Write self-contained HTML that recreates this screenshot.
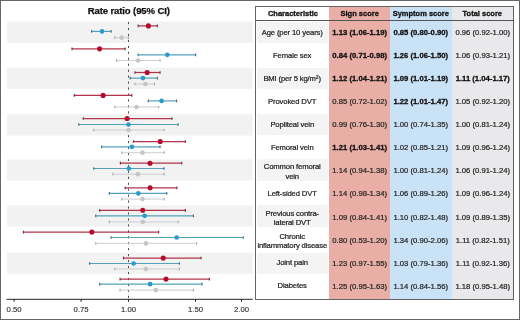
<!DOCTYPE html>
<html><head><meta charset="utf-8"><style>
html,body{margin:0;padding:0;background:#fff}
body{width:520px;height:320px;position:relative;overflow:hidden;font-family:"Liberation Sans",sans-serif}
#wrap{position:absolute;left:0;top:0;width:520px;height:320px;will-change:transform}
.c{position:absolute;display:flex;align-items:center;justify-content:center;text-align:center;white-space:nowrap;color:#2a2a2a}
.h{font-weight:bold;font-size:7.5px;color:#111;-webkit-text-stroke:0.3px #111}
.n{font-size:7.7px;letter-spacing:-0.15px;line-height:9.2px;color:#222;box-sizing:border-box;-webkit-text-stroke:0.22px #222}
.two{padding-top:1.8px}
.v{font-size:7.7px;color:#262626;-webkit-text-stroke:0.22px #262626}
.b{font-weight:bold;color:#111;-webkit-text-stroke:0.3px #111}
sup{font-size:68%;line-height:0;vertical-align:baseline;position:relative;top:-1.9px}
.frame{position:absolute;left:0;top:0;width:520px;height:320px;box-sizing:border-box;border:1px solid #666}
</style></head><body><div id="wrap">
<svg width="256" height="320" viewBox="0 0 256 320" style="position:absolute;left:0;top:0"><rect x="7" y="21.60" width="246" height="21.3" fill="#f2f2f2"/><rect x="7" y="67.60" width="246" height="21.3" fill="#f2f2f2"/><rect x="7" y="114.20" width="246" height="21.3" fill="#f2f2f2"/><rect x="7" y="159.30" width="246" height="21.3" fill="#f2f2f2"/><rect x="7" y="205.35" width="246" height="21.3" fill="#f2f2f2"/><rect x="7" y="252.60" width="246" height="21.3" fill="#f2f2f2"/><line x1="128.5" y1="22.0" x2="128.5" y2="299" stroke="#505050" stroke-width="1" stroke-dasharray="2.2 3.75"/><line x1="138.14" y1="25.90" x2="157.29" y2="25.90" stroke="#b0344a" stroke-width="1.25"/><line x1="138.14" y1="24.55" x2="138.14" y2="27.25" stroke="#6a2a3a" stroke-width="1.1"/><line x1="157.29" y1="24.55" x2="157.29" y2="27.25" stroke="#6a2a3a" stroke-width="1.1"/><circle cx="148.40" cy="25.90" r="2.55" fill="#b50a2c"/><line x1="91.68" y1="31.40" x2="111.12" y2="31.40" stroke="#52a2bc" stroke-width="1.2"/><line x1="91.68" y1="30.05" x2="91.68" y2="32.75" stroke="#3f6878" stroke-width="1.1"/><line x1="111.12" y1="30.05" x2="111.12" y2="32.75" stroke="#3f6878" stroke-width="1.1"/><circle cx="102.00" cy="31.40" r="2.35" fill="#2a9acb"/><line x1="114.74" y1="37.70" x2="128.50" y2="37.70" stroke="#cdcdd4" stroke-width="1.0"/><line x1="114.74" y1="36.35" x2="114.74" y2="39.05" stroke="#a8a8ae" stroke-width="1.1"/><line x1="128.50" y1="36.35" x2="128.50" y2="39.05" stroke="#a8a8ae" stroke-width="1.1"/><circle cx="121.70" cy="37.70" r="2.35" fill="#c6c6c6"/><line x1="71.99" y1="48.85" x2="125.17" y2="48.85" stroke="#b0344a" stroke-width="1.25"/><line x1="71.99" y1="47.50" x2="71.99" y2="50.20" stroke="#6a2a3a" stroke-width="1.1"/><line x1="125.17" y1="47.50" x2="125.17" y2="50.20" stroke="#6a2a3a" stroke-width="1.1"/><circle cx="99.60" cy="48.85" r="2.55" fill="#b50a2c"/><line x1="138.14" y1="54.80" x2="195.60" y2="54.80" stroke="#52a2bc" stroke-width="1.2"/><line x1="138.14" y1="53.45" x2="138.14" y2="56.15" stroke="#3f6878" stroke-width="1.1"/><line x1="195.60" y1="53.45" x2="195.60" y2="56.15" stroke="#3f6878" stroke-width="1.1"/><circle cx="167.25" cy="54.80" r="2.35" fill="#2a9acb"/><line x1="116.53" y1="60.50" x2="160.05" y2="60.50" stroke="#cdcdd4" stroke-width="1.0"/><line x1="116.53" y1="59.15" x2="116.53" y2="61.85" stroke="#a8a8ae" stroke-width="1.1"/><line x1="160.05" y1="59.15" x2="160.05" y2="61.85" stroke="#a8a8ae" stroke-width="1.1"/><circle cx="138.10" cy="60.50" r="2.35" fill="#c6c6c6"/><line x1="134.99" y1="72.50" x2="160.05" y2="72.50" stroke="#b0344a" stroke-width="1.25"/><line x1="134.99" y1="71.15" x2="134.99" y2="73.85" stroke="#6a2a3a" stroke-width="1.1"/><line x1="160.05" y1="71.15" x2="160.05" y2="73.85" stroke="#6a2a3a" stroke-width="1.1"/><circle cx="147.15" cy="72.50" r="2.55" fill="#b50a2c"/><line x1="130.15" y1="78.10" x2="157.29" y2="78.10" stroke="#52a2bc" stroke-width="1.2"/><line x1="130.15" y1="76.75" x2="130.15" y2="79.45" stroke="#3f6878" stroke-width="1.1"/><line x1="157.29" y1="76.75" x2="157.29" y2="79.45" stroke="#3f6878" stroke-width="1.1"/><circle cx="143.00" cy="78.10" r="2.35" fill="#2a9acb"/><line x1="134.99" y1="84.00" x2="154.48" y2="84.00" stroke="#cdcdd4" stroke-width="1.0"/><line x1="134.99" y1="82.65" x2="134.99" y2="85.35" stroke="#a8a8ae" stroke-width="1.1"/><line x1="154.48" y1="82.65" x2="154.48" y2="85.35" stroke="#a8a8ae" stroke-width="1.1"/><circle cx="145.40" cy="84.00" r="2.35" fill="#c6c6c6"/><line x1="74.30" y1="95.40" x2="131.78" y2="95.40" stroke="#b0344a" stroke-width="1.25"/><line x1="74.30" y1="94.05" x2="74.30" y2="96.75" stroke="#6a2a3a" stroke-width="1.1"/><line x1="131.78" y1="94.05" x2="131.78" y2="96.75" stroke="#6a2a3a" stroke-width="1.1"/><circle cx="103.10" cy="95.40" r="2.55" fill="#b50a2c"/><line x1="148.30" y1="100.90" x2="176.60" y2="100.90" stroke="#52a2bc" stroke-width="1.2"/><line x1="148.30" y1="99.55" x2="148.30" y2="102.25" stroke="#3f6878" stroke-width="1.1"/><line x1="176.60" y1="99.55" x2="176.60" y2="102.25" stroke="#3f6878" stroke-width="1.1"/><circle cx="161.60" cy="100.90" r="2.35" fill="#2a9acb"/><line x1="114.74" y1="107.00" x2="158.67" y2="107.00" stroke="#cdcdd4" stroke-width="1.0"/><line x1="114.74" y1="105.65" x2="114.74" y2="108.35" stroke="#a8a8ae" stroke-width="1.1"/><line x1="158.67" y1="105.65" x2="158.67" y2="108.35" stroke="#a8a8ae" stroke-width="1.1"/><circle cx="136.50" cy="107.00" r="2.35" fill="#c6c6c6"/><line x1="83.22" y1="118.50" x2="171.92" y2="118.50" stroke="#b0344a" stroke-width="1.25"/><line x1="83.22" y1="117.15" x2="83.22" y2="119.85" stroke="#6a2a3a" stroke-width="1.1"/><line x1="171.92" y1="117.15" x2="171.92" y2="119.85" stroke="#6a2a3a" stroke-width="1.1"/><circle cx="127.10" cy="118.50" r="2.55" fill="#b50a2c"/><line x1="78.82" y1="124.50" x2="178.17" y2="124.50" stroke="#52a2bc" stroke-width="1.2"/><line x1="78.82" y1="123.15" x2="78.82" y2="125.85" stroke="#3f6878" stroke-width="1.1"/><line x1="178.17" y1="123.15" x2="178.17" y2="125.85" stroke="#3f6878" stroke-width="1.1"/><circle cx="128.50" cy="124.50" r="2.35" fill="#2a9acb"/><line x1="93.73" y1="130.00" x2="164.10" y2="130.00" stroke="#cdcdd4" stroke-width="1.0"/><line x1="93.73" y1="128.65" x2="93.73" y2="131.35" stroke="#a8a8ae" stroke-width="1.1"/><line x1="164.10" y1="128.65" x2="164.10" y2="131.35" stroke="#a8a8ae" stroke-width="1.1"/><circle cx="128.60" cy="130.00" r="2.35" fill="#c6c6c6"/><line x1="133.39" y1="141.50" x2="185.36" y2="141.50" stroke="#b0344a" stroke-width="1.25"/><line x1="133.39" y1="140.15" x2="133.39" y2="142.85" stroke="#6a2a3a" stroke-width="1.1"/><line x1="185.36" y1="140.15" x2="185.36" y2="142.85" stroke="#6a2a3a" stroke-width="1.1"/><circle cx="160.20" cy="141.50" r="2.55" fill="#b50a2c"/><line x1="101.68" y1="146.85" x2="160.05" y2="146.85" stroke="#52a2bc" stroke-width="1.2"/><line x1="101.68" y1="145.50" x2="101.68" y2="148.20" stroke="#3f6878" stroke-width="1.1"/><line x1="160.05" y1="145.50" x2="160.05" y2="148.20" stroke="#3f6878" stroke-width="1.1"/><circle cx="131.90" cy="146.85" r="2.35" fill="#2a9acb"/><line x1="121.76" y1="152.70" x2="164.10" y2="152.70" stroke="#cdcdd4" stroke-width="1.0"/><line x1="121.76" y1="151.35" x2="121.76" y2="154.05" stroke="#a8a8ae" stroke-width="1.1"/><line x1="164.10" y1="151.35" x2="164.10" y2="154.05" stroke="#a8a8ae" stroke-width="1.1"/><circle cx="142.50" cy="152.70" r="2.35" fill="#c6c6c6"/><line x1="120.40" y1="163.20" x2="181.80" y2="163.20" stroke="#b0344a" stroke-width="1.25"/><line x1="120.40" y1="161.85" x2="120.40" y2="164.55" stroke="#6a2a3a" stroke-width="1.1"/><line x1="181.80" y1="161.85" x2="181.80" y2="164.55" stroke="#6a2a3a" stroke-width="1.1"/><circle cx="150.00" cy="163.20" r="2.55" fill="#b50a2c"/><line x1="93.73" y1="168.50" x2="164.10" y2="168.50" stroke="#52a2bc" stroke-width="1.2"/><line x1="93.73" y1="167.15" x2="93.73" y2="169.85" stroke="#3f6878" stroke-width="1.1"/><line x1="164.10" y1="167.15" x2="164.10" y2="169.85" stroke="#3f6878" stroke-width="1.1"/><circle cx="128.80" cy="168.50" r="2.35" fill="#2a9acb"/><line x1="112.94" y1="174.20" x2="164.10" y2="174.20" stroke="#cdcdd4" stroke-width="1.0"/><line x1="112.94" y1="172.85" x2="112.94" y2="175.55" stroke="#a8a8ae" stroke-width="1.1"/><line x1="164.10" y1="172.85" x2="164.10" y2="175.55" stroke="#a8a8ae" stroke-width="1.1"/><circle cx="137.90" cy="174.20" r="2.35" fill="#c6c6c6"/><line x1="125.17" y1="187.80" x2="176.94" y2="187.80" stroke="#b0344a" stroke-width="1.25"/><line x1="125.17" y1="186.45" x2="125.17" y2="189.15" stroke="#6a2a3a" stroke-width="1.1"/><line x1="176.94" y1="186.45" x2="176.94" y2="189.15" stroke="#6a2a3a" stroke-width="1.1"/><circle cx="150.10" cy="187.80" r="2.55" fill="#b50a2c"/><line x1="109.27" y1="193.40" x2="166.75" y2="193.40" stroke="#52a2bc" stroke-width="1.2"/><line x1="109.27" y1="192.05" x2="109.27" y2="194.75" stroke="#3f6878" stroke-width="1.1"/><line x1="166.75" y1="192.05" x2="166.75" y2="194.75" stroke="#3f6878" stroke-width="1.1"/><circle cx="138.30" cy="193.40" r="2.35" fill="#2a9acb"/><line x1="121.76" y1="199.10" x2="164.10" y2="199.10" stroke="#cdcdd4" stroke-width="1.0"/><line x1="121.76" y1="197.75" x2="121.76" y2="200.45" stroke="#a8a8ae" stroke-width="1.1"/><line x1="164.10" y1="197.75" x2="164.10" y2="200.45" stroke="#a8a8ae" stroke-width="1.1"/><circle cx="142.50" cy="199.10" r="2.35" fill="#c6c6c6"/><line x1="99.73" y1="210.30" x2="185.36" y2="210.30" stroke="#b0344a" stroke-width="1.25"/><line x1="99.73" y1="208.95" x2="99.73" y2="211.65" stroke="#6a2a3a" stroke-width="1.1"/><line x1="185.36" y1="208.95" x2="185.36" y2="211.65" stroke="#6a2a3a" stroke-width="1.1"/><circle cx="142.75" cy="210.30" r="2.55" fill="#b50a2c"/><line x1="95.76" y1="215.80" x2="193.38" y2="215.80" stroke="#52a2bc" stroke-width="1.2"/><line x1="95.76" y1="214.45" x2="95.76" y2="217.15" stroke="#3f6878" stroke-width="1.1"/><line x1="193.38" y1="214.45" x2="193.38" y2="217.15" stroke="#3f6878" stroke-width="1.1"/><circle cx="144.60" cy="215.80" r="2.35" fill="#2a9acb"/><line x1="109.27" y1="221.90" x2="178.17" y2="221.90" stroke="#cdcdd4" stroke-width="1.0"/><line x1="109.27" y1="220.55" x2="109.27" y2="223.25" stroke="#a8a8ae" stroke-width="1.1"/><line x1="178.17" y1="220.55" x2="178.17" y2="223.25" stroke="#a8a8ae" stroke-width="1.1"/><circle cx="142.75" cy="221.90" r="2.35" fill="#c6c6c6"/><line x1="23.40" y1="232.10" x2="158.67" y2="232.10" stroke="#b0344a" stroke-width="1.25"/><line x1="23.40" y1="230.75" x2="23.40" y2="233.45" stroke="#6a2a3a" stroke-width="1.1"/><line x1="158.67" y1="230.75" x2="158.67" y2="233.45" stroke="#6a2a3a" stroke-width="1.1"/><circle cx="91.85" cy="232.10" r="2.55" fill="#b50a2c"/><line x1="111.12" y1="237.50" x2="243.20" y2="237.50" stroke="#52a2bc" stroke-width="1.2"/><line x1="111.12" y1="236.15" x2="111.12" y2="238.85" stroke="#3f6878" stroke-width="1.1"/><line x1="243.20" y1="236.15" x2="243.20" y2="238.85" stroke="#3f6878" stroke-width="1.1"/><circle cx="176.70" cy="237.50" r="2.35" fill="#2a9acb"/><line x1="95.76" y1="243.40" x2="196.70" y2="243.40" stroke="#cdcdd4" stroke-width="1.0"/><line x1="95.76" y1="242.05" x2="95.76" y2="244.75" stroke="#a8a8ae" stroke-width="1.1"/><line x1="196.70" y1="242.05" x2="196.70" y2="244.75" stroke="#a8a8ae" stroke-width="1.1"/><circle cx="146.00" cy="243.40" r="2.35" fill="#c6c6c6"/><line x1="123.47" y1="258.00" x2="201.03" y2="258.00" stroke="#b0344a" stroke-width="1.25"/><line x1="123.47" y1="256.65" x2="123.47" y2="259.35" stroke="#6a2a3a" stroke-width="1.1"/><line x1="201.03" y1="256.65" x2="201.03" y2="259.35" stroke="#6a2a3a" stroke-width="1.1"/><circle cx="163.20" cy="258.00" r="2.55" fill="#b50a2c"/><line x1="89.61" y1="263.50" x2="179.39" y2="263.50" stroke="#52a2bc" stroke-width="1.2"/><line x1="89.61" y1="262.15" x2="89.61" y2="264.85" stroke="#3f6878" stroke-width="1.1"/><line x1="179.39" y1="262.15" x2="179.39" y2="264.85" stroke="#3f6878" stroke-width="1.1"/><circle cx="133.65" cy="263.50" r="2.35" fill="#2a9acb"/><line x1="114.74" y1="269.00" x2="179.39" y2="269.00" stroke="#cdcdd4" stroke-width="1.0"/><line x1="114.74" y1="267.65" x2="114.74" y2="270.35" stroke="#a8a8ae" stroke-width="1.1"/><line x1="179.39" y1="267.65" x2="179.39" y2="270.35" stroke="#a8a8ae" stroke-width="1.1"/><circle cx="145.80" cy="269.00" r="2.35" fill="#c6c6c6"/><line x1="120.04" y1="279.10" x2="209.36" y2="279.10" stroke="#b0344a" stroke-width="1.25"/><line x1="120.04" y1="277.75" x2="120.04" y2="280.45" stroke="#6a2a3a" stroke-width="1.1"/><line x1="209.36" y1="277.75" x2="209.36" y2="280.45" stroke="#6a2a3a" stroke-width="1.1"/><circle cx="166.00" cy="279.10" r="2.55" fill="#b50a2c"/><line x1="99.73" y1="284.20" x2="202.10" y2="284.20" stroke="#52a2bc" stroke-width="1.2"/><line x1="99.73" y1="282.85" x2="99.73" y2="285.55" stroke="#3f6878" stroke-width="1.1"/><line x1="202.10" y1="282.85" x2="202.10" y2="285.55" stroke="#3f6878" stroke-width="1.1"/><circle cx="150.10" cy="284.20" r="2.35" fill="#2a9acb"/><line x1="120.04" y1="290.10" x2="193.38" y2="290.10" stroke="#cdcdd4" stroke-width="1.0"/><line x1="120.04" y1="288.75" x2="120.04" y2="291.45" stroke="#a8a8ae" stroke-width="1.1"/><line x1="193.38" y1="288.75" x2="193.38" y2="291.45" stroke="#a8a8ae" stroke-width="1.1"/><circle cx="155.80" cy="290.10" r="2.35" fill="#c6c6c6"/><line x1="6.6" y1="299.3" x2="252.7" y2="299.3" stroke="#222" stroke-width="1"/><line x1="14.10" y1="299" x2="14.10" y2="301.8" stroke="#222" stroke-width="1"/><text x="14.10" y="311.6" text-anchor="middle" font-family="Liberation Sans" font-size="7.7" fill="#333" stroke="#333" stroke-width="0.15">0.50</text><line x1="81.10" y1="299" x2="81.10" y2="301.8" stroke="#222" stroke-width="1"/><text x="81.10" y="311.6" text-anchor="middle" font-family="Liberation Sans" font-size="7.7" fill="#333" stroke="#333" stroke-width="0.15">0.75</text><line x1="128.50" y1="299" x2="128.50" y2="301.8" stroke="#222" stroke-width="1"/><text x="128.50" y="311.6" text-anchor="middle" font-family="Liberation Sans" font-size="7.7" fill="#333" stroke="#333" stroke-width="0.15">1.00</text><line x1="195.50" y1="299" x2="195.50" y2="301.8" stroke="#222" stroke-width="1"/><text x="195.50" y="311.6" text-anchor="middle" font-family="Liberation Sans" font-size="7.7" fill="#333" stroke="#333" stroke-width="0.15">1.50</text><line x1="241.50" y1="299" x2="241.50" y2="301.8" stroke="#222" stroke-width="1"/><text x="241.50" y="311.6" text-anchor="middle" font-family="Liberation Sans" font-size="7.7" fill="#333" stroke="#333" stroke-width="0.15">2.00</text><text x="128.8" y="13.8" text-anchor="middle" font-family="Liberation Sans" font-weight="bold" font-size="9.6" letter-spacing="-0.15" fill="#111" stroke="#111" stroke-width="0.25">Rate ratio (95% CI)</text></svg>
<div style="position:absolute;left:329.4px;top:7px;width:60.60px;height:292.5px;background:#e9aea5"></div><div style="position:absolute;left:390.0px;top:7px;width:61.60px;height:292.5px;background:#cae2f6"></div><div style="position:absolute;left:451.6px;top:7px;width:61.40px;height:292.5px;background:#e9e9eb"></div><div style="position:absolute;left:256.5px;top:21.60px;width:71px;height:21.3px;background:#f4f4f4"></div><div style="position:absolute;left:256.5px;top:67.60px;width:71px;height:21.3px;background:#f4f4f4"></div><div style="position:absolute;left:256.5px;top:114.20px;width:71px;height:21.3px;background:#f4f4f4"></div><div style="position:absolute;left:256.5px;top:159.30px;width:71px;height:21.3px;background:#f4f4f4"></div><div style="position:absolute;left:256.5px;top:205.35px;width:71px;height:21.3px;background:#f4f4f4"></div><div style="position:absolute;left:256.5px;top:252.60px;width:71px;height:21.3px;background:#f4f4f4"></div><div class="c h" style="left:256.5px;width:72.90px;top:7px;height:13px">Characteristic</div><div class="c h" style="left:329.4px;width:60.60px;top:7px;height:13px">Sign score</div><div class="c h" style="left:390.0px;width:61.60px;top:7px;height:13px">Symptom score</div><div class="c h" style="left:451.6px;width:61.40px;top:7px;height:13px">Total score</div><div class="c n" style="left:256.5px;width:71.40px;top:21.75px;height:21.5px">Age (per 10 years)</div><div class="c v b" style="left:329.4px;width:60.60px;top:21.95px;height:21.5px">1.13 (1.06-1.19)</div><div class="c v b" style="left:390.0px;width:61.60px;top:21.95px;height:21.5px">0.85 (0.80-0.90)</div><div class="c v" style="left:452.1px;width:61.40px;top:21.95px;height:21.5px">0.96 (0.92-1.00)</div><div class="c n" style="left:256.5px;width:71.40px;top:44.79px;height:21.5px">Female sex</div><div class="c v b" style="left:329.4px;width:60.60px;top:44.99px;height:21.5px">0.84 (0.71-0.98)</div><div class="c v b" style="left:390.0px;width:61.60px;top:44.99px;height:21.5px">1.26 (1.06-1.50)</div><div class="c v" style="left:452.1px;width:61.40px;top:44.99px;height:21.5px">1.06 (0.93-1.21)</div><div class="c n" style="left:256.5px;width:71.40px;top:67.83px;height:21.5px">BMI (per 5 kg/m<sup>2</sup>)</div><div class="c v b" style="left:329.4px;width:60.60px;top:68.03px;height:21.5px">1.12 (1.04-1.21)</div><div class="c v b" style="left:390.0px;width:61.60px;top:68.03px;height:21.5px">1.09 (1.01-1.19)</div><div class="c v b" style="left:452.1px;width:61.40px;top:68.03px;height:21.5px">1.11 (1.04-1.17)</div><div class="c n" style="left:256.5px;width:71.40px;top:90.87px;height:21.5px">Provoked DVT</div><div class="c v" style="left:329.4px;width:60.60px;top:91.07px;height:21.5px">0.85 (0.72-1.02)</div><div class="c v b" style="left:390.0px;width:61.60px;top:91.07px;height:21.5px">1.22 (1.01-1.47)</div><div class="c v" style="left:452.1px;width:61.40px;top:91.07px;height:21.5px">1.05 (0.92-1.20)</div><div class="c n" style="left:256.5px;width:71.40px;top:113.91px;height:21.5px">Popliteal vein</div><div class="c v" style="left:329.4px;width:60.60px;top:114.11px;height:21.5px">0.99 (0.76-1.30)</div><div class="c v" style="left:390.0px;width:61.60px;top:114.11px;height:21.5px">1.00 (0.74-1.35)</div><div class="c v" style="left:452.1px;width:61.40px;top:114.11px;height:21.5px">1.00 (0.81-1.24)</div><div class="c n" style="left:256.5px;width:71.40px;top:136.95px;height:21.5px">Femoral vein</div><div class="c v b" style="left:329.4px;width:60.60px;top:137.15px;height:21.5px">1.21 (1.03-1.41)</div><div class="c v" style="left:390.0px;width:61.60px;top:137.15px;height:21.5px">1.02 (0.85-1.21)</div><div class="c v" style="left:452.1px;width:61.40px;top:137.15px;height:21.5px">1.09 (0.96-1.24)</div><div class="c n two" style="left:256.5px;width:71.40px;top:159.99px;height:21.5px">Common femoral<br>vein</div><div class="c v" style="left:329.4px;width:60.60px;top:160.19px;height:21.5px">1.14 (0.94-1.38)</div><div class="c v" style="left:390.0px;width:61.60px;top:160.19px;height:21.5px">1.00 (0.81-1.24)</div><div class="c v" style="left:452.1px;width:61.40px;top:160.19px;height:21.5px">1.06 (0.91-1.24)</div><div class="c n" style="left:256.5px;width:71.40px;top:183.03px;height:21.5px">Left-sided DVT</div><div class="c v" style="left:329.4px;width:60.60px;top:183.23px;height:21.5px">1.14 (0.98-1.34)</div><div class="c v" style="left:390.0px;width:61.60px;top:183.23px;height:21.5px">1.06 (0.89-1.26)</div><div class="c v" style="left:452.1px;width:61.40px;top:183.23px;height:21.5px">1.09 (0.96-1.24)</div><div class="c n two" style="left:256.5px;width:71.40px;top:206.07px;height:21.5px">Previous contra-<br>lateral DVT</div><div class="c v" style="left:329.4px;width:60.60px;top:206.27px;height:21.5px">1.09 (0.84-1.41)</div><div class="c v" style="left:390.0px;width:61.60px;top:206.27px;height:21.5px">1.10 (0.82-1.48)</div><div class="c v" style="left:452.1px;width:61.40px;top:206.27px;height:21.5px">1.09 (0.89-1.35)</div><div class="c n two" style="left:256.5px;width:71.40px;top:229.11px;height:21.5px">Chronic<br>inflammatory disease</div><div class="c v" style="left:329.4px;width:60.60px;top:229.31px;height:21.5px">0.80 (0.53-1.20)</div><div class="c v" style="left:390.0px;width:61.60px;top:229.31px;height:21.5px">1.34 (0.90-2.06)</div><div class="c v" style="left:452.1px;width:61.40px;top:229.31px;height:21.5px">1.11 (0.82-1.51)</div><div class="c n" style="left:256.5px;width:71.40px;top:252.15px;height:21.5px">Joint pain</div><div class="c v" style="left:329.4px;width:60.60px;top:252.35px;height:21.5px">1.23 (0.97-1.55)</div><div class="c v" style="left:390.0px;width:61.60px;top:252.35px;height:21.5px">1.03 (0.79-1.36)</div><div class="c v" style="left:452.1px;width:61.40px;top:252.35px;height:21.5px">1.11 (0.92-1.36)</div><div class="c n" style="left:256.5px;width:71.40px;top:275.19px;height:21.5px">Diabetes</div><div class="c v" style="left:329.4px;width:60.60px;top:275.39px;height:21.5px">1.25 (0.95-1.63)</div><div class="c v" style="left:390.0px;width:61.60px;top:275.39px;height:21.5px">1.14 (0.84-1.56)</div><div class="c v" style="left:452.1px;width:61.40px;top:275.39px;height:21.5px">1.18 (0.95-1.48)</div><div style="position:absolute;left:254.9px;top:6.0px;width:259.4px;height:294.05px;box-sizing:border-box;border:1.7px solid #646464"></div><div style="position:absolute;left:256px;top:19.8px;width:257.5px;height:1.4px;background:#555"></div>
<div class="frame"></div>
</div></body></html>
